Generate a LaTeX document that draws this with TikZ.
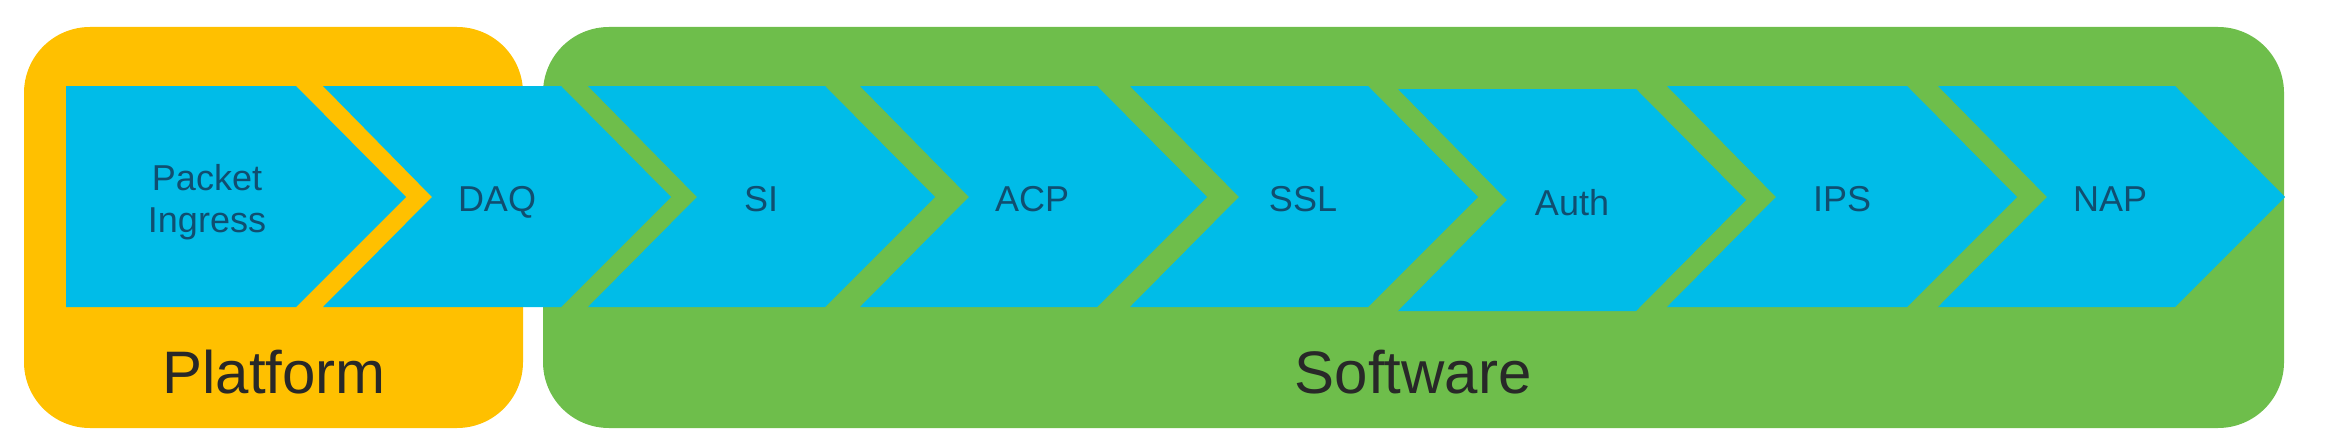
\documentclass[tikz,border=0pt]{standalone}
\usepackage{fontspec}
\setmainfont{Liberation Sans}
\definecolor{platcol}{RGB}{255,192,0}
\definecolor{softcol}{RGB}{110,190,75}
\definecolor{bandcol}{RGB}{0,188,232}
\definecolor{lblcol}{RGB}{16,78,112}
\definecolor{titlecol}{RGB}{40,40,40}
\tikzset{
  groupbox/.style={rounded corners=66pt},
  lbl/.style={text=lblcol, font=\fontsize{36}{42}\selectfont, inner sep=0pt, align=center},
  title/.style={text=titlecol, font=\fontsize{60}{66}\selectfont, inner sep=0pt, anchor=base},
}
\begin{document}
\begin{tikzpicture}[x=1pt,y=-1pt]
\useasboundingbox (0,0) rectangle (2328,444);
% group boxes
\fill[platcol, groupbox] (24,27) rectangle (523,428);
\fill[softcol, groupbox] (543,27) rectangle (2284,428);
% first (flat) stage
\fill[bandcol] (66,86) -- (296,86) -- (406,197) -- (296,307) -- (66,307) -- cycle;
% chevron stages: start, top-right
\foreach \s/\r in {323/561, 588/825, 860/1097, 1130/1368, 1667/1907, 1938/2175}{
  \fill[bandcol] (\s,86) -- (\r,86) -- ({\r+110},197) -- (\r,307) -- (\s,307) -- ({\s+109},197) -- cycle;
}
% Auth stage is slightly offset downward
\fill[bandcol] (1398,89) -- (1636,89) -- (1746,200) -- (1636,311) -- (1398,311) -- (1507,200) -- cycle;
% labels
\node[lbl] (pi) at (207,202) {Packet\\Ingress};
\node[lbl, anchor=base] (daq) at (497,211) {DAQ};
\node[lbl, anchor=base] (si) at (761,211) {SI};
\node[lbl, anchor=base] (acp) at (1032,211) {ACP};
\node[lbl, anchor=base] (ssl) at (1303,211) {SSL};
\node[lbl, anchor=base] (auth) at (1572,215) {Auth};
\node[lbl, anchor=base] (ips) at (1842,211) {IPS};
\node[lbl, anchor=base] (nap) at (2110,211) {NAP};
\node[title] (platform) at (274,393) {Platform};
\node[title] (software) at (1413,393) {Software};
\end{tikzpicture}
\end{document}
